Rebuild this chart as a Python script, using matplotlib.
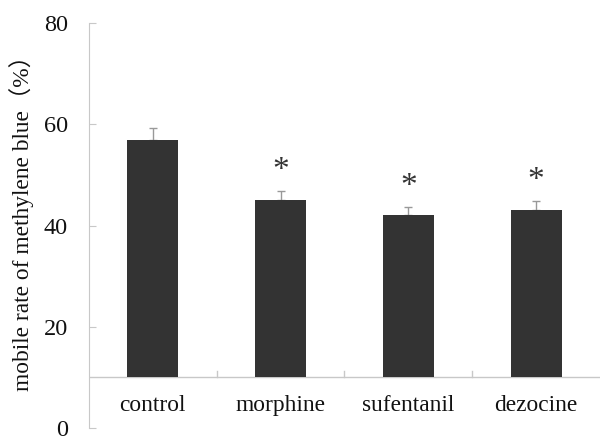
import numpy as np
import matplotlib
matplotlib.use("Agg")
import matplotlib.pyplot as plt

# values
groups = ["control", "morphine", "sufentanil", "dezocine"]
means = [57, 45, 42, 43]
errors = [2.3, 1.8, 1.6, 1.8]
significant = [False, True, True, True]

y_ticks = [0, 20, 40, 60, 80]
base = 10  # category axis crosses here

plt.rcParams['font.family'] = ['Liberation Serif', 'Noto Sans CJK SC']

fig = plt.figure(figsize=(6, 4.37), dpi=100)
ax = fig.add_axes([0.148, 0.0206, 0.852, 0.9264])

x = np.arange(len(groups))
heights = [m - base for m in means]
ax.bar(x, heights, bottom=base, width=0.4, color="#333333", zorder=3)
ax.errorbar(x, means, yerr=[np.zeros(len(errors)), errors], fmt="none",
            ecolor="#999999", elinewidth=1, capsize=3, capthick=1, zorder=2)

for xi, m, e, s in zip(x, means, errors, significant):
    if s:
        ax.text(xi, m + e + 4.0, "*", ha="center", va="center", fontsize=24,
                color="#333333")

# horizontal category line at base with upward ticks at boundaries
ax.axhline(base, color="#c8c8c8", linewidth=1, zorder=1)
for b in x[:-1] + 0.5:
    ax.plot([b, b], [base, base + 1.2], color="#c8c8c8", linewidth=1)

for xi, g in zip(x, groups):
    ax.text(xi, 4.4, g, ha="center", va="center", fontsize=16.8, color="#111111")

ax.set_xlim(-0.5, 3.5)
ax.set_ylim(0, 80)
ax.set_yticks(y_ticks)
ax.set_xticks([])
ax.tick_params(axis="y", direction="in", labelsize=17.5, length=5,
               color="#c8c8c8", labelcolor="#111111", pad=15)
for side in ["top", "right", "bottom"]:
    ax.spines[side].set_visible(False)
ax.spines["left"].set_color("#c8c8c8")
ax.set_ylabel("mobile rate of methylene blue（%）", fontsize=16.8, color="#111111")
ax.yaxis.set_label_coords(-0.108, 0.52)

fig.savefig("out.png", dpi=100)
